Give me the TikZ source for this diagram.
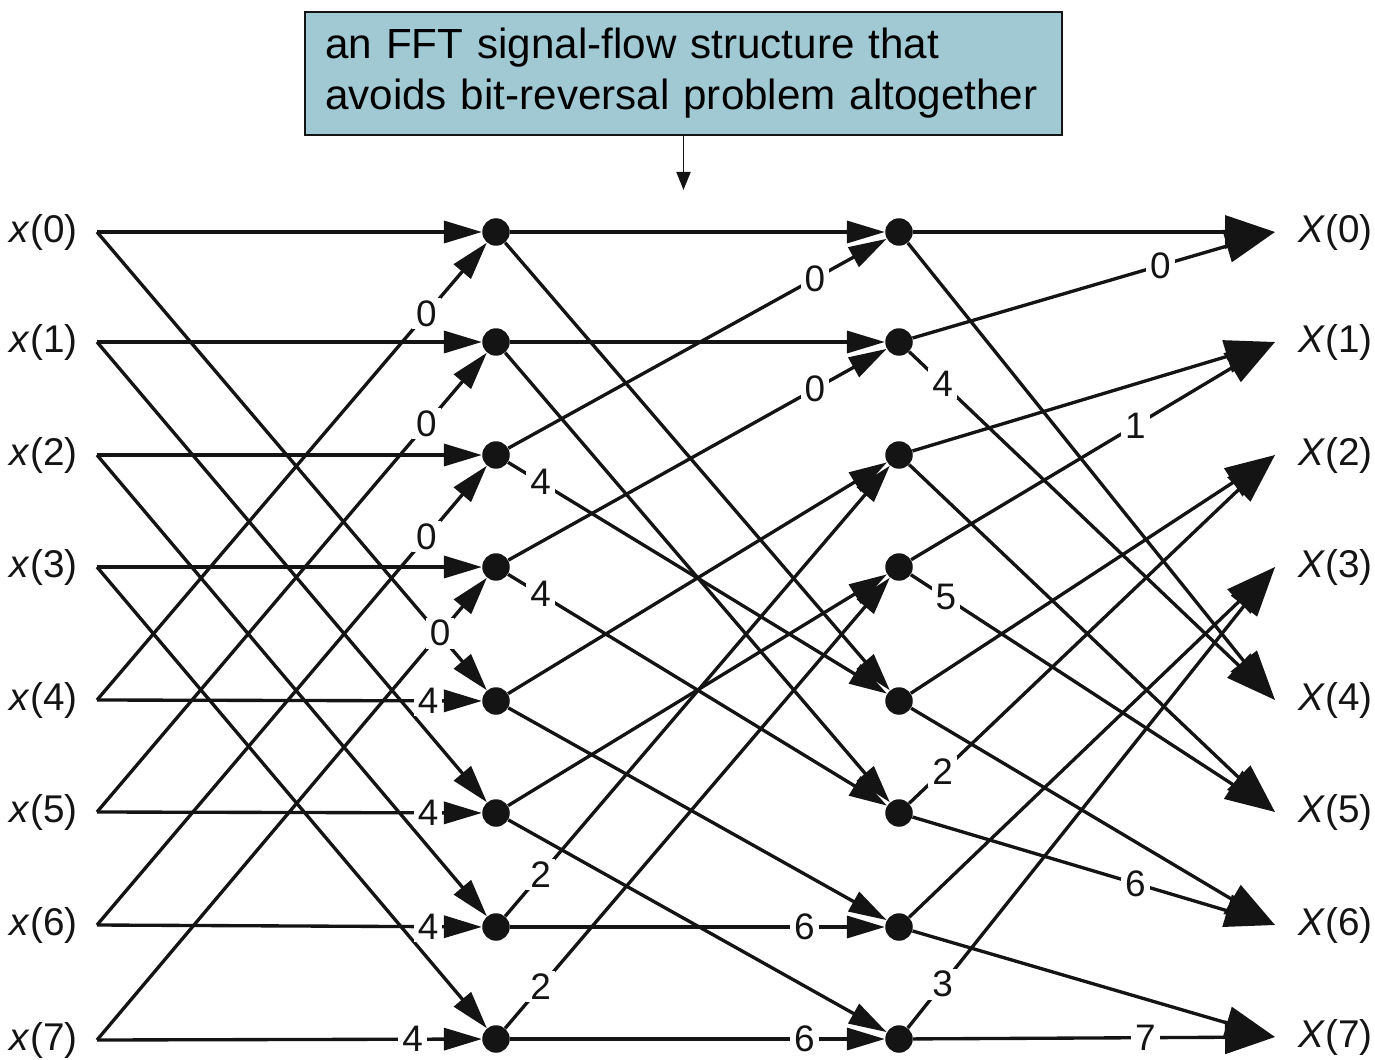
\documentclass[tikz,border=0pt]{standalone}
\usepackage{fontspec}
\setmainfont{Liberation Sans}
\usetikzlibrary{arrows.meta}
\definecolor{TitleTeal}{HTML}{A0C9D3}
\definecolor{Ink}{HTML}{141414}

\begin{document}
\begin{tikzpicture}[x=0.02cm,y=-0.02cm,
  wire/.style={draw=Ink,line width=1.9pt},
  stagearrow/.style={wire,-{Triangle[length=0.76cm,width=0.44cm]}},
  outarrow/.style={wire,-{Triangle[length=1cm,width=0.66cm]}},
  dot/.style={circle,fill=Ink,inner sep=0pt,minimum size=0.55cm},
  weight/.style={fill=white,text=Ink,inner xsep=0.08cm,inner ysep=0.05cm,font=\fontsize{21}{24}\selectfont},
  inlabel/.style={anchor=east,inner xsep=0.38cm,inner ysep=0pt,text=Ink,font=\fontsize{22}{26}\selectfont},
  outlabel/.style={anchor=west,inner xsep=0.46cm,inner ysep=0pt,text=Ink,font=\fontsize{22}{26}\selectfont},
  titlebox/.style={draw=Ink,fill=TitleTeal,line width=1.1pt,text width=14.34cm,inner xsep=0.4cm,
    minimum height=2.46cm,align=left,font=\fontsize{24}{29}\selectfont}]
  \useasboundingbox (0,0) rectangle (1375,1060);

  % caption box
  \node[titlebox] (title) at (683.5,73.5) {an FFT signal-flow structure that\\avoids bit-reversal problem altogether};
  \coordinate (ptr) at (683.5,190);
  \draw[draw=Ink,line width=1.1pt,-{Triangle[length=0.36cm,width=0.28cm]}] (title.south) -- (ptr);

  % inputs
  \node[inlabel] (xin0) at (97,232) {\textit{x}(0)};
  \node[inlabel] (xin1) at (97,342) {\textit{x}(1)};
  \node[inlabel] (xin2) at (97,455) {\textit{x}(2)};
  \node[inlabel] (xin3) at (97,567) {\textit{x}(3)};
  \node[inlabel] (xin4) at (97,700) {\textit{x}(4)};
  \node[inlabel] (xin5) at (97,812) {\textit{x}(5)};
  \node[inlabel] (xin6) at (97,925) {\textit{x}(6)};
  \node[inlabel] (xin7) at (97,1040) {\textit{x}(7)};

  % first stage
  \node[dot] (p0) at (496,232) {};
  \node[dot] (p1) at (496,342) {};
  \node[dot] (p2) at (496,455) {};
  \node[dot] (p3) at (496,567) {};
  \node[dot] (p4) at (496,701) {};
  \node[dot] (p5) at (496,813) {};
  \node[dot] (p6) at (496,927) {};
  \node[dot] (p7) at (496,1039) {};

  % second stage
  \node[dot] (q0) at (899,232) {};
  \node[dot] (q1) at (899,342) {};
  \node[dot] (q2) at (899,455) {};
  \node[dot] (q3) at (899,567) {};
  \node[dot] (q4) at (899,701) {};
  \node[dot] (q5) at (899,813) {};
  \node[dot] (q6) at (899,927) {};
  \node[dot] (q7) at (899,1039) {};

  % outputs
  \node[outlabel] (Xout0) at (1275,232) {\textit{X}(0)};
  \node[outlabel] (Xout1) at (1275,342) {\textit{X}(1)};
  \node[outlabel] (Xout2) at (1275,455) {\textit{X}(2)};
  \node[outlabel] (Xout3) at (1275,567) {\textit{X}(3)};
  \node[outlabel] (Xout4) at (1275,700) {\textit{X}(4)};
  \node[outlabel] (Xout5) at (1275,812) {\textit{X}(5)};
  \node[outlabel] (Xout6) at (1275,925) {\textit{X}(6)};
  \node[outlabel] (Xout7) at (1275,1037) {\textit{X}(7)};

  % inputs -> first stage
  \draw[stagearrow] (xin0.east) -- (p0);
  \draw[stagearrow] (xin0.east) -- (p4);
  \draw[stagearrow] (xin1.east) -- (p1);
  \draw[stagearrow] (xin1.east) -- (p5);
  \draw[stagearrow] (xin2.east) -- (p2);
  \draw[stagearrow] (xin2.east) -- (p6);
  \draw[stagearrow] (xin3.east) -- (p3);
  \draw[stagearrow] (xin3.east) -- (p7);
  \draw[stagearrow] (xin4.east) -- node[weight,pos=0.845] {0} (p0);
  \draw[stagearrow] (xin5.east) -- node[weight,pos=0.845] {0} (p1);
  \draw[stagearrow] (xin6.east) -- node[weight,pos=0.845] {0} (p2);
  \draw[stagearrow] (xin7.east) -- node[weight,pos=0.88] {0} (p3);
  \draw[stagearrow] (xin4.east) -- node[weight,pos=0.86] {4} (p4);
  \draw[stagearrow] (xin5.east) -- node[weight,pos=0.86] {4} (p5);
  \draw[stagearrow] (xin6.east) -- node[weight,pos=0.86] {4} (p6);
  \draw[stagearrow] (xin7.east) -- node[weight,pos=0.82] {4} (p7);

  % first stage -> second stage
  \draw[stagearrow] (p0) -- (q0);
  \draw[stagearrow] (p0) -- (q4);
  \draw[stagearrow] (p1) -- (q1);
  \draw[stagearrow] (p1) -- (q5);
  \draw[stagearrow] (p2) -- node[weight,pos=0.81] {0} (q0);
  \draw[stagearrow] (p2) -- node[weight,pos=0.086] {4} (q4);
  \draw[stagearrow] (p3) -- node[weight,pos=0.81] {0} (q1);
  \draw[stagearrow] (p3) -- node[weight,pos=0.086] {4} (q5);
  \draw[stagearrow] (p4) -- (q2);
  \draw[stagearrow] (p4) -- (q6);
  \draw[stagearrow] (p5) -- (q3);
  \draw[stagearrow] (p5) -- (q7);
  \draw[stagearrow] (p6) -- node[weight,pos=0.092] {2} (q2);
  \draw[stagearrow] (p6) -- node[weight,pos=0.785] {6} (q6);
  \draw[stagearrow] (p7) -- node[weight,pos=0.092] {2} (q3);
  \draw[stagearrow] (p7) -- node[weight,pos=0.785] {6} (q7);

  % second stage -> outputs
  \draw[outarrow] (q0) -- (Xout0.west);
  \draw[outarrow] (q0) -- (Xout4.west);
  \draw[outarrow] (q1) -- node[weight,pos=0.684] {0} (Xout0.west);
  \draw[outarrow] (q1) -- node[weight,pos=0.091] {4} (Xout4.west);
  \draw[outarrow] (q2) -- (Xout1.west);
  \draw[outarrow] (q2) -- (Xout5.west);
  \draw[outarrow] (q3) -- node[weight,pos=0.616] {1} (Xout1.west);
  \draw[outarrow] (q3) -- node[weight,pos=0.096] {5} (Xout5.west);
  \draw[outarrow] (q4) -- (Xout2.west);
  \draw[outarrow] (q4) -- (Xout6.west);
  \draw[outarrow] (q5) -- node[weight,pos=0.091] {2} (Xout2.west);
  \draw[outarrow] (q5) -- node[weight,pos=0.615] {6} (Xout6.west);
  \draw[outarrow] (q6) -- (Xout3.west);
  \draw[outarrow] (q6) -- (Xout7.west);
  \draw[outarrow] (q7) -- node[weight,pos=0.095] {3} (Xout3.west);
  \draw[outarrow] (q7) -- node[weight,pos=0.642] {7} (Xout7.west);
\end{tikzpicture}
\end{document}
